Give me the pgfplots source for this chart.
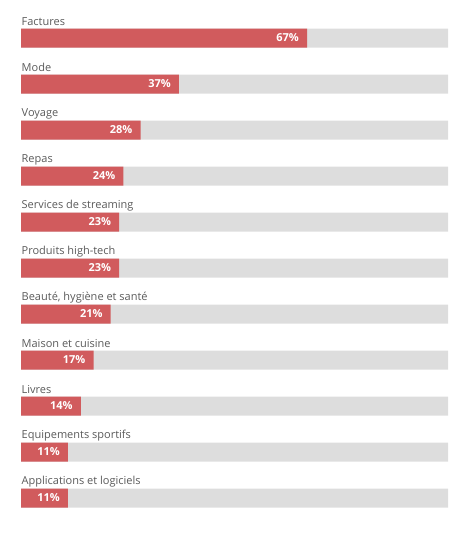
\documentclass[border=0pt]{standalone}
\usepackage{pgfplots}
\pgfplotsset{compat=1.18}
\usepackage{fontspec}
\setmainfont{Open Sans}
\definecolor{barred}{HTML}{D15B5D}
\definecolor{bargray}{HTML}{DDDDDD}
\definecolor{labgray}{HTML}{5A5A5A}
\tikzset{cat/.style={anchor=west, inner sep=0pt, text=labgray, font=\fontsize{11}{13}\selectfont, yshift=16.5pt, xshift=0.5pt}}
\begin{document}
\begin{tikzpicture}[x=1pt,y=1pt]
\path (0,0) rectangle (474,542);
\begin{axis}[
  at={(21pt,527pt)}, anchor=north west,
  scale only axis, width=427pt, height=506pt,
  xmin=0, xmax=100, ymin=-0.5, ymax=10.5, y dir=reverse,
  axis lines=none, ticks=none, clip=false,
  xbar, bar width=19pt, bar shift=0pt,
  /pgf/number format/assume math mode=true,
]
\addplot[draw=none, fill=bargray] coordinates {
(100,0) (100,1) (100,2) (100,3) (100,4) (100,5) (100,6) (100,7) (100,8) (100,9) (100,10)};
\addplot[draw=none, fill=barred,
  nodes near coords={\pgfmathprintnumber{\pgfplotspointmeta}\%},
  nodes near coords style={anchor=east, xshift=-7pt, text=white, font=\fontsize{11}{13}\selectfont\bfseries, inner sep=1pt},
  point meta=x] coordinates {
(67,0) (37,1) (28,2) (24,3) (23,4) (23,5) (21,6) (17,7) (14,8) (11,9) (11,10)};
\node[cat] at (axis cs:0,0) {Factures};
\node[cat] at (axis cs:0,1) {Mode};
\node[cat] at (axis cs:0,2) {Voyage};
\node[cat] at (axis cs:0,3) {Repas};
\node[cat] at (axis cs:0,4) {Services de streaming};
\node[cat] at (axis cs:0,5) {Produits high-tech};
\node[cat] at (axis cs:0,6) {Beauté, hygiène et santé};
\node[cat] at (axis cs:0,7) {Maison et cuisine};
\node[cat] at (axis cs:0,8) {Livres};
\node[cat] at (axis cs:0,9) {Equipements sportifs};
\node[cat] at (axis cs:0,10) {Applications et logiciels};
\end{axis}
\end{tikzpicture}
\end{document}
